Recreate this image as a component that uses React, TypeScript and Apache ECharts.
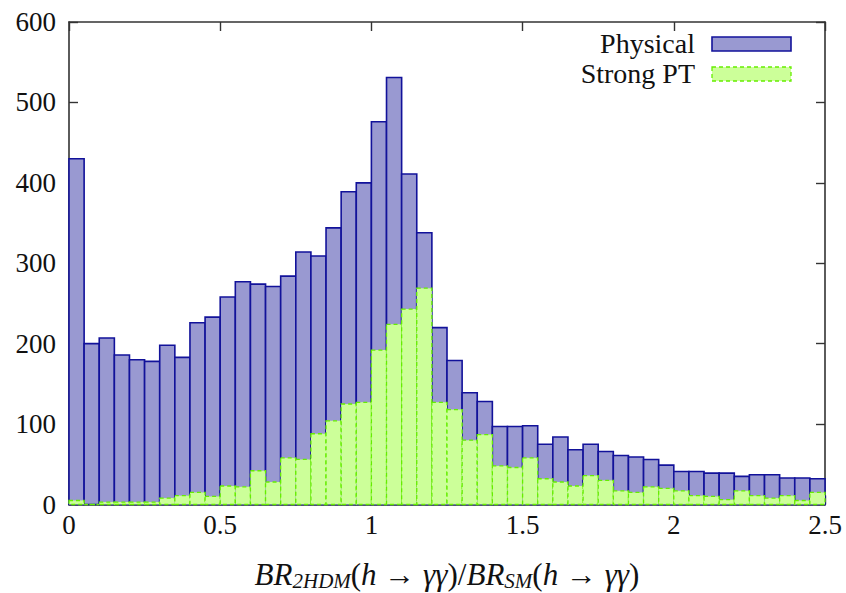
import React, { useEffect, useRef } from "react";
import * as echarts from "echarts";

const BIN_WIDTH = 0.05;
const physical = [
  430, 200, 207, 186, 180, 178, 198, 183, 226, 233,
  258, 277, 274, 271, 284, 314, 309, 344, 389, 400,
  476, 531, 411, 338, 220, 179, 139, 128, 97, 97,
  98, 75, 84, 68, 75, 66, 61, 59, 56, 49,
  41, 41, 39, 39, 35, 37, 37, 33, 33, 32,
];
const strongPT = [
  5, 0, 3, 3, 3, 3, 8, 11, 15, 10,
  23, 22, 42, 28, 58, 56, 88, 104, 125, 127,
  192, 224, 243, 269, 127, 118, 80, 87, 48, 46,
  58, 32, 28, 23, 36, 30, 17, 15, 22, 20,
  17, 11, 10, 6, 17, 11, 8, 11, 5, 15,
];
const seriesNames = ["Physical", "Strong PT"];
const xTicks = { min: 0, max: 2.5, interval: 0.5 };
const yTicks = { min: 0, max: 600, interval: 100 };

const FONT = "Liberation Serif";

const toData = (vals: number[]) =>
  vals.map((v, i) => [i * BIN_WIDTH, (i + 1) * BIN_WIDTH, v]);

export default function App() {
  const ref = useRef<HTMLDivElement>(null);
  useEffect(() => {
    document.body.style.margin = "0";
    const chart = echarts.init(ref.current!, null, { renderer: "svg" });
    const physStyle = { fill: "#9999d1", stroke: "#12129a", lineWidth: 1.6 };
    const strongStyle = {
      fill: "#ccff99",
      stroke: "#66ee00",
      lineWidth: 1.3,
      lineDash: [4, 3],
    };
    const mkRender = (style: any) => (params: any, api: any) => {
      const x0 = api.value(0);
      const x1 = api.value(1);
      const v = api.value(2);
      const p0 = api.coord([x0, v]);
      const p1 = api.coord([x1, 0]);
      return {
        type: "rect",
        shape: { x: p0[0], y: p0[1], width: p1[0] - p0[0], height: p1[1] - p0[1] },
        style,
      };
    };
    const axisLine = { show: true, onZero: false, lineStyle: { color: "#333", width: 1.6 } };
    const tick = { show: true, inside: true, length: 9, lineStyle: { color: "#333", width: 1.4 } };
    const label = { color: "#111", fontFamily: FONT, fontSize: 27 };
    chart.setOption({
      animation: false,
      textStyle: { fontFamily: FONT },
      grid: { left: 69, right: 21, top: 22, bottom: 88.5 },
      xAxis: [
        {
          type: "value",
          ...xTicks,
          position: "bottom",
          axisLine,
          axisTick: tick,
          axisLabel: { ...label, margin: 7 },
          splitLine: { show: false },
        },
        {
          type: "value",
          ...xTicks,
          position: "top",
          axisLine,
          axisTick: tick,
          axisLabel: { show: false },
          splitLine: { show: false },
        },
      ],
      yAxis: [
        {
          type: "value",
          ...yTicks,
          position: "left",
          axisLine,
          axisTick: tick,
          axisLabel: { ...label, margin: 13 },
          splitLine: { show: false },
        },
        {
          type: "value",
          ...yTicks,
          position: "right",
          axisLine,
          axisTick: tick,
          axisLabel: { show: false },
          splitLine: { show: false },
        },
      ],
      series: [
        {
          name: seriesNames[0],
          type: "custom",
          renderItem: mkRender(physStyle),
          data: toData(physical),
          encode: { x: [0, 1], y: 2 },
          z: 2,
        },
        {
          name: seriesNames[1],
          type: "custom",
          renderItem: mkRender(strongStyle),
          data: toData(strongPT),
          encode: { x: [0, 1], y: 2 },
          z: 3,
        },
      ],
      graphic: [
        {
          type: "text",
          x: 695,
          y: 43,
          style: {
            text: seriesNames[0],
            fontFamily: FONT,
            fontSize: 28,
            fill: "#111",
            align: "right",
            verticalAlign: "middle",
          },
        },
        {
          type: "rect",
          shape: { x: 712, y: 37, width: 79, height: 14 },
          style: physStyle,
        },
        {
          type: "text",
          x: 695,
          y: 73,
          style: {
            text: seriesNames[1],
            fontFamily: FONT,
            fontSize: 28,
            fill: "#111",
            align: "right",
            verticalAlign: "middle",
          },
        },
        {
          type: "rect",
          shape: { x: 712, y: 67, width: 79, height: 14 },
          style: strongStyle,
        },
        {
          type: "text",
          x: 447,
          y: 574,
          style: {
            text:
              "{m|BR}{s|2HDM}{u|(}{m|h}{u| → }{m|γγ}{u|)/}{m|BR}{s|SM}{u|(}{m|h}{u| → }{m|γγ}{u|)}",
            align: "center",
            verticalAlign: "middle",
            rich: {
              m: { fontFamily: FONT, fontStyle: "italic", fontSize: 31, fill: "#111", lineHeight: 34, verticalAlign: "middle" } as any,
              u: { fontFamily: FONT, fontSize: 31, fill: "#111", lineHeight: 34, verticalAlign: "middle" } as any,
              s: { fontFamily: FONT, fontStyle: "italic", fontSize: 21, fill: "#111", lineHeight: 22, verticalAlign: "bottom" } as any,
            },
          },
        },
      ],
    });
    return () => chart.dispose();
  }, []);
  return <div ref={ref} style={{ width: 846, height: 593 }} />;
}
